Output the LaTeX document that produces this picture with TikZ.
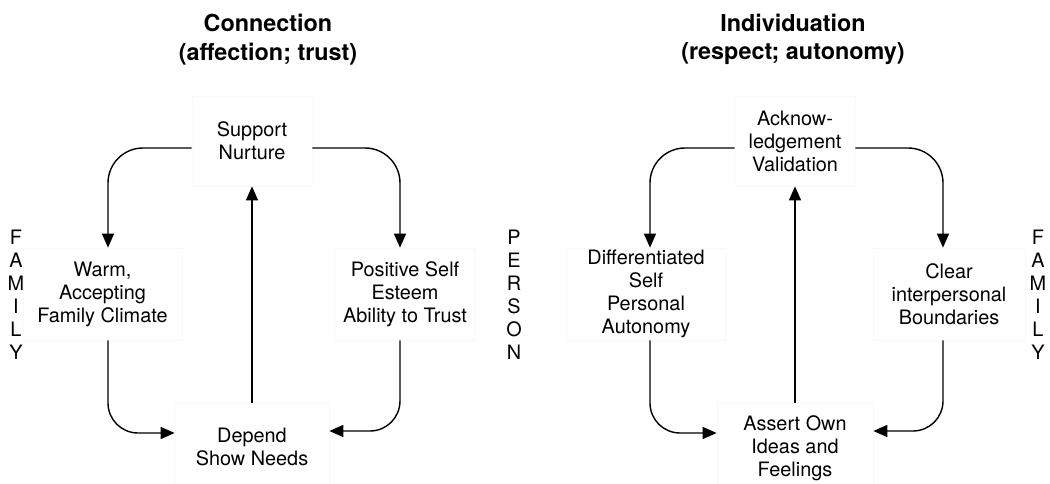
\documentclass[tikz,border=0pt]{standalone}
\usepackage{fontspec}
\setmainfont{TeX Gyre Heros}
\usetikzlibrary{arrows.meta}
\definecolor{BoxClr}{rgb}{0.975,0.975,0.975}

\begin{document}
\begin{tikzpicture}[
  box/.style={draw=BoxClr,fill=white,align=center,inner sep=0pt,font=\fontsize{11.3}{13.1}\selectfont},
  head/.style={align=center,font=\fontsize{13.3}{16.2}\selectfont\bfseries},
  vlabel/.style={align=center,inner sep=0pt,font=\fontsize{11.3}{13.1}\selectfont},
  link/.style={line width=0.8pt,-{Triangle[length=2.8mm,width=2.4mm]}}
]
\useasboundingbox (0,0) rectangle (21,9.66);

\node[head] (conn) at (5.36,8.87) {Connection\\(affection; trust)};
\node[head] (indiv) at (15.86,8.87) {Individuation\\(respect; autonomy)};

\node[box,minimum width=2.4cm,minimum height=1.8cm] (sup) at (5.04,6.84) {Support\\Nurture};
\node[box,minimum width=3.18cm,minimum height=1.84cm] (warm) at (2.05,3.78) {Warm,\\Accepting\\Family Climate};
\node[box,minimum width=2.8cm,minimum height=1.84cm] (pos) at (8.1,3.78) {Positive Self\\Esteem\\Ability to Trust};
\node[box,minimum width=3.08cm,minimum height=1.76cm] (dep) at (5.04,0.72) {Depend\\Show Needs};

\node[box,minimum width=2.4cm,minimum height=1.8cm] (ack) at (15.9,6.84) {Acknow-\\ledgement\\Validation};
\node[box,minimum width=3.16cm,minimum height=1.84cm] (diff) at (12.92,3.78) {Differentiated\\Self\\Personal\\Autonomy};
\node[box,minimum width=3.04cm,minimum height=1.84cm] (clr) at (18.98,3.78) {Clear\\interpersonal\\Boundaries};
\node[box,minimum width=3.12cm,minimum height=1.8cm] (ass) at (15.9,0.7) {Assert Own\\Ideas and\\Feelings};

\node[vlabel] (famL) at (0.32,3.77) {F\\A\\M\\I\\L\\Y};
\node[vlabel] (pers) at (10.28,3.77) {P\\E\\R\\S\\O\\N};
\node[vlabel] (famR) at (20.76,3.77) {F\\A\\M\\I\\L\\Y};

\draw[link,rounded corners=7mm] ([yshift=-1.4mm]sup.west) -| ([xshift=1.1mm]warm.north);
\draw[link,rounded corners=7mm] ([yshift=-1.4mm]sup.east) -| ([xshift=-1mm]pos.north);
\draw[link,rounded corners=6mm] ([xshift=1.1mm]warm.south) |- ([yshift=2.8mm]dep.west);
\draw[link,rounded corners=6mm] ([xshift=-1mm]pos.south) |- ([yshift=3.2mm]dep.east);
\draw[link] (dep) -- (sup);

\draw[link,rounded corners=7mm] ([yshift=-1.4mm]ack.west) -| ([xshift=0.8mm]diff.north);
\draw[link,rounded corners=7mm] ([yshift=-1.4mm]ack.east) -| ([xshift=-1.2mm]clr.north);
\draw[link,rounded corners=6mm] ([xshift=0.8mm]diff.south) |- ([yshift=3mm]ass.west);
\draw[link,rounded corners=6mm] ([xshift=-1.2mm]clr.south) |- ([yshift=3.4mm]ass.east);
\draw[link] (ass) -- (ack);

\end{tikzpicture}
\end{document}
